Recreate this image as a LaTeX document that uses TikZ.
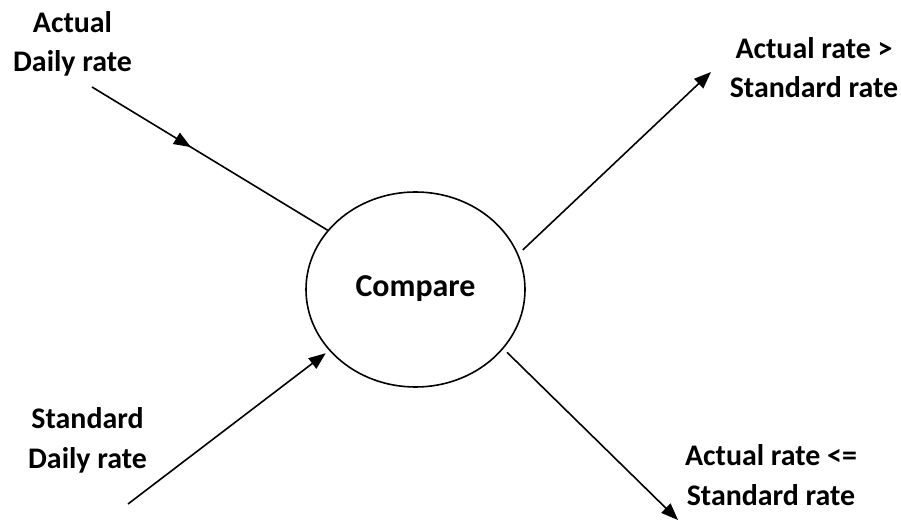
\documentclass[tikz,border=0pt]{standalone}
\usepackage{fontspec}
\setmainfont{Carlito}
\usetikzlibrary{shapes.geometric,arrows.meta,decorations.markings}

\begin{document}
\begin{tikzpicture}[
    x=1bp, y=-1bp,
    lbl/.style={font=\fontsize{30}{40}\selectfont\bfseries, align=center, anchor=base, inner sep=0pt},
    flow/.style={line width=1.6bp, -{Triangle[length=17bp,width=13bp]}},
    plain/.style={line width=1.6bp},
    midarrow/.style={postaction={decorate}, decoration={markings,
        mark=at position 0.42 with {\arrow{Triangle[length=17bp,width=13bp]}}}}
  ]
  \useasboundingbox (0,0) rectangle (901,521);

  % process bubble
  \node[ellipse, draw, line width=1.6bp, minimum width=219bp, minimum height=195bp,
        inner sep=0pt] (cmp) at (415.5,289.5) {};
  \node[lbl, font=\fontsize{32}{36}\selectfont\bfseries] (cmptext) at (415.5,297) {Compare};

  % data labels (anchored at the baseline of their second line)
  \node[lbl] (actual)   at (72.5,72)  {Actual\\Daily rate};
  \node[lbl] (standard) at (87.5,468) {Standard\\Daily rate};
  \node[lbl] (greater)  at (814,98)   {Actual rate >\\Standard rate};
  \node[lbl] (lesseq)   at (771,505)  {Actual rate <=\\Standard rate};

  % free ends of the flows
  \coordinate (inA)  at (92,87);
  \coordinate (inS)  at (128,504);
  \coordinate (outG) at (711,72);
  \coordinate (outL) at (678,520);

  % flows
  \draw[plain, midarrow] (inA) -- (cmp.146.5);
  \draw[flow] (inS) -- ([shift={(-3,3)}]cmp.215.7);
  \draw[flow, shorten <=6bp] (cmp.19.8) -- (outG);
  \draw[flow, shorten <=5bp] (cmp.-34) -- (outL);
\end{tikzpicture}
\end{document}
